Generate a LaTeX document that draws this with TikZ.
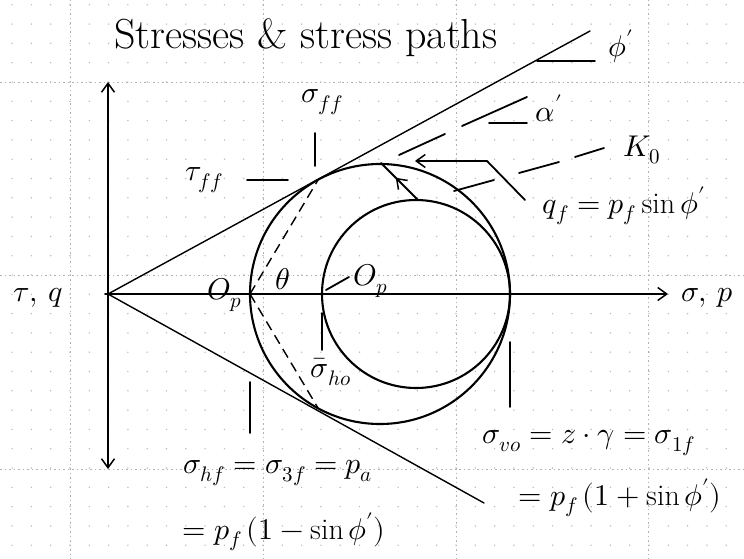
\documentclass[tikz,border=0pt]{standalone}
\usepackage{fontspec}
\usepackage{unicode-math}
\setmathfont{Latin Modern Math}
\usetikzlibrary{arrows.meta,decorations.markings}
\begin{document}
\begin{tikzpicture}[x=1pt,y=-1pt,
  ink/.style={line width=1.8pt,line cap=round,line join=round},
  thinink/.style={line width=1.4pt,line cap=round},
  circ/.style={line width=2.1pt},
  dashink/.style={line width=1.4pt,dash pattern=on 10pt off 6pt},
  barb/.style={-{Straight Barb[length=9pt,width=13pt,line width=1.5pt]}},
  lbl/.style={font=\fontsize{30}{32}\selectfont,inner sep=0pt},
  gridmaj/.style={gray!60,line width=0.6pt,dash pattern=on 1.5pt off 3pt},
]
\useasboundingbox (0,0) rectangle (744,559);
% graph paper
\foreach \i in {0,...,38} {
  \foreach \j in {0,...,28} {
    \fill[gray!55] ({12.1+19.3*\i},{4.8+19.3*\j}) circle[radius=0.8];
  }
}
\foreach \x in {70,263,456,648} \draw[gridmaj] (\x,0) -- (\x,559);
\foreach \y in {82,275,469} \draw[gridmaj] (0,\y) -- (744,\y);

% key points
\coordinate (O) at (108,294);
\coordinate (xstart) at (105,294);
\coordinate (xend) at (668,294);
\coordinate (ytop) at (108,82);
\coordinate (ybot) at (108,469);
\coordinate (env1) at (590,31);
\coordinate (env2) at (484,503);
\coordinate (C1) at (380,294);
\coordinate (C0) at (416,294);
\coordinate (OP) at (250,294);
\coordinate (OP0) at (322,294);
\coordinate (T1) at (318,180);
\coordinate (T2) at (318,408);
\coordinate (top1) at (381,163);
\coordinate (top0) at (418,200);

% axes
\draw[ink,barb] (xstart) -- (xend);
\draw[ink,{Straight Barb[length=9pt,width=13pt,line width=1.5pt]}-{Straight Barb[length=9pt,width=13pt,line width=1.5pt]}] (ybot) -- (ytop);

% failure envelopes
\draw[thinink] (O) -- (env1);
\draw[thinink] (O) -- (env2);

% Mohr circles
\draw[circ] (C1) circle[radius=130];
\draw[circ] (C0) circle[radius=94];

% pole lines
\draw[dashink] (OP) -- (T1);
\draw[dashink] (OP) -- (T2);

% stress path
\draw[ink,decoration={markings,mark=at position 0.6 with {\arrow{Straight Barb[length=9pt,width=13pt,line width=1.5pt]}}},postaction=decorate] (top0) -- (top1);

% Kf line (alpha')
\coordinate (kfa1) at (399,155); \coordinate (kfa2) at (445,134);
\coordinate (kfb1) at (462,126); \coordinate (kfb2) at (527,97);
\draw[ink] (kfa1) -- (kfa2);
\draw[ink] (kfb1) -- (kfb2);

% K0 line
\coordinate (koa1) at (454,191); \coordinate (koa2) at (494,180);
\coordinate (kob1) at (519,173); \coordinate (kob2) at (559,162);
\coordinate (koc1) at (575,157); \coordinate (koc2) at (604,148);
\draw[ink] (koa1) -- (koa2);
\draw[ink] (kob1) -- (kob2);
\draw[ink] (koc1) -- (koc2);

% angle ticks
\coordinate (phia) at (537,61); \coordinate (phib) at (595,61);
\draw[ink] (phia) -- (phib);
\coordinate (ala) at (489,123); \coordinate (alb) at (527,123);
\draw[ink] (ala) -- (alb);

% labels
\node[inner sep=0pt,font=\fontsize{42}{44}\selectfont] (title) at (306,38) {Stresses \& stress paths};
\node[lbl] (phi) at (621,46) {$\phi'$};
\node[lbl] (alpha) at (549,108) {$\alpha'$};
\node[lbl] (K0) at (642,150) {$K_0$};
\node[lbl] (qf) at (624,206) {$q_f = p_f \sin\phi'$};
\node[lbl] (sff) at (322,102) {$\sigma_{ff}$};
\node[lbl] (tff) at (204,180) {$\tau_{ff}$};
\node[lbl] (tq) at (38,298) {$\tau,\,q$};
\node[lbl] (sp) at (707,298) {$\sigma,\,p$};
\node[lbl] (Op) at (225,295) {$O_p$};
\node[lbl] (theta) at (283,279) {$\theta$};
\node[lbl] (Op0) at (371,281) {$O_p$};
\node[lbl] (sho) at (331,372) {$\bar\sigma_{ho}$};
\node[lbl] (shf) at (278,473) {$\sigma_{hf} = \sigma_{3f} = p_a$};
\node[lbl] (shf2) at (284,532) {$= p_f\,(1-\sin\phi')$};
\node[lbl] (svo) at (589,443) {$\sigma_{vo} = z\cdot\gamma = \sigma_{1f}$};
\node[lbl] (svo2) at (620,498) {$= p_f\,(1+\sin\phi')$};

% leaders
\coordinate (qfa) at (525,200); \coordinate (qfb) at (487,161); \coordinate (qfc) at (415,161);
\draw[ink,barb] (qfa) -- (qfb) -- (qfc);
\coordinate (sffa) at (315,133); \coordinate (sffb) at (315,166);
\draw[ink] (sffa) -- (sffb);
\coordinate (tffa) at (247,180); \coordinate (tffb) at (288,180);
\draw[ink] (tffa) -- (tffb);
\coordinate (shoa) at (322,313); \coordinate (shob) at (322,350);
\draw[ink] (shoa) -- (shob);
\coordinate (shfa) at (250,382); \coordinate (shfb) at (250,433);
\draw[ink] (shfa) -- (shfb);
\coordinate (svoa) at (510,342); \coordinate (svob) at (510,407);
\draw[ink] (svoa) -- (svob);
\coordinate (opa) at (326,290); \coordinate (opb) at (349,277);
\draw[ink] (opa) -- (opb);
\end{tikzpicture}
\end{document}
